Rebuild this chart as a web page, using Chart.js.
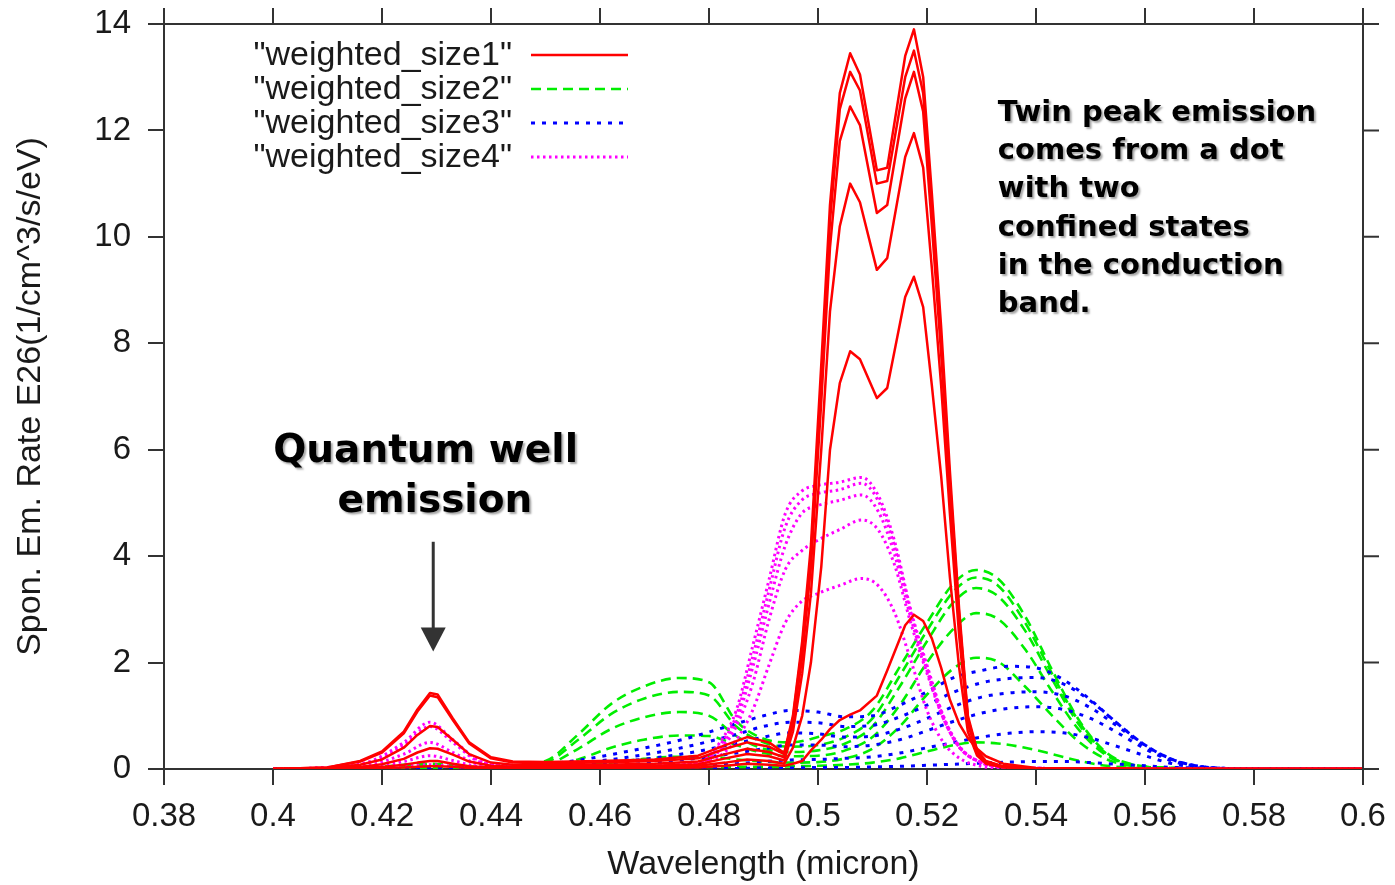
<!DOCTYPE html>
<html>
<head>
<meta charset="utf-8">
<script src="https://cdn.jsdelivr.net/npm/chart.js@4.4.1/dist/chart.umd.min.js"></script>
<style>
html,body{margin:0;padding:0;background:#fff;}
canvas{display:block;}
</style>
</head>
<body>
<canvas id="c" width="1395" height="885"></canvas>
<script>
// ---------- axis ticks & labels ----------
const xTicks = [0.38,0.40,0.42,0.44,0.46,0.48,0.50,0.52,0.54,0.56,0.58,0.60];
const yTicks = [0,2,4,6,8,10,12,14];
const seriesLabels = ['"weighted_size1"','"weighted_size2"','"weighted_size3"','"weighted_size4"'];

// ---------- weighted_size1 (red) ----------
const redX = [0.400,0.410,0.416,0.420,0.424,0.4265,0.4288,0.4302,0.433,0.436,0.440,0.444,0.450,0.460,0.470,0.478,0.483,0.487,0.491,0.4938,0.4954,0.4971,0.4987,0.5006,0.5022,0.5040,0.5059,0.5077,0.5108,0.5127,0.5160,0.5176,0.5193,0.5209,0.5226,0.5242,0.5259,0.5275,0.5292,0.5308,0.5340,0.540,0.560,0.600];
const size1_a = [0,0.03,0.15,0.33,0.70,1.12,1.43,1.40,0.95,0.50,0.22,0.14,0.13,0.15,0.18,0.25,0.45,0.6,0.5,0.3,1.0,2.4,4.2,7.6,10.6,12.7,13.45,13.05,11.25,11.3,13.4,13.9,13.0,10.8,8.3,5.6,3.0,1.0,0.35,0.15,0.05,0.01,0,0];
const size1_b = [0,0.03,0.14,0.31,0.67,1.08,1.38,1.35,0.92,0.48,0.2,0.12,0.11,0.12,0.15,0.2,0.38,0.5,0.42,0.28,0.95,2.3,4.0,7.3,10.3,12.4,13.1,12.75,11.0,11.05,13.0,13.5,12.7,10.5,8.0,5.4,2.9,0.95,0.33,0.14,0.05,0.01,0,0];
const size1_c = [0,0.02,0.08,0.18,0.4,0.64,0.81,0.79,0.55,0.28,0.12,0.08,0.07,0.08,0.1,0.14,0.28,0.38,0.32,0.22,0.85,2.1,3.8,6.9,9.8,11.8,12.45,12.1,10.45,10.6,12.6,13.1,12.35,10.2,7.8,5.2,2.8,0.92,0.32,0.13,0.04,0.01,0,0];
const size1_d = [0,0.01,0.04,0.09,0.19,0.31,0.39,0.38,0.27,0.14,0.06,0.04,0.04,0.05,0.06,0.09,0.2,0.28,0.24,0.16,0.7,1.8,3.3,6.0,8.6,10.2,11.0,10.65,9.38,9.6,11.5,11.95,11.3,9.4,7.2,4.8,2.5,0.85,0.3,0.12,0.04,0.01,0,0];
const size1_e = [0,0,0.02,0.04,0.08,0.12,0.15,0.15,0.1,0.05,0.03,0.02,0.02,0.03,0.04,0.06,0.12,0.18,0.15,0.1,0.4,1.0,2.0,3.8,6.0,7.25,7.85,7.7,6.97,7.16,8.87,9.25,8.68,7.2,5.5,3.6,1.9,0.7,0.25,0.1,0.03,0.01,0,0];
const size1_f = [0,0,0.01,0.02,0.03,0.04,0.05,0.05,0.04,0.02,0.01,0.01,0.01,0.01,0.02,0.03,0.06,0.1,0.08,0.06,0.1,0.15,0.35,0.55,0.75,0.92,1.02,1.1,1.38,1.85,2.7,2.9,2.78,2.45,1.9,1.3,0.85,0.58,0.38,0.24,0.1,0.02,0,0];

// ---------- weighted_size2 (green) ----------
const greenX = [0.400,0.415,0.4288,0.440,0.450,0.456,0.462,0.468,0.4745,0.480,0.485,0.490,0.495,0.500,0.505,0.510,0.515,0.520,0.525,0.529,0.533,0.538,0.543,0.548,0.553,0.558,0.565,0.575,0.600];
const size2_a = [0,0.01,0.1,0.03,0.15,0.65,1.22,1.55,1.71,1.63,0.9,0.57,0.5,0.6,0.75,1.1,1.92,2.75,3.5,3.74,3.58,2.87,1.85,0.9,0.3,0.08,0.02,0,0];
const size2_b = [0,0.01,0.08,0.02,0.12,0.55,1.03,1.32,1.45,1.38,0.8,0.5,0.42,0.45,0.6,0.95,1.75,2.6,3.35,3.6,3.45,2.75,1.78,0.87,0.28,0.07,0.02,0,0];
const size2_c = [0,0,0.05,0.02,0.08,0.38,0.75,0.97,1.07,1.0,0.62,0.38,0.32,0.35,0.48,0.8,1.55,2.4,3.15,3.4,3.25,2.6,1.68,0.82,0.27,0.07,0.02,0,0];
const size2_d = [0,0,0.03,0.01,0.04,0.18,0.4,0.55,0.63,0.62,0.45,0.3,0.24,0.25,0.35,0.6,1.2,2.0,2.65,2.93,2.82,2.25,1.45,0.72,0.25,0.07,0.02,0,0];
const size2_e = [0,0,0.01,0,0.01,0.05,0.12,0.19,0.23,0.23,0.18,0.14,0.12,0.13,0.2,0.38,0.8,1.4,1.9,2.09,2.02,1.55,1.0,0.5,0.18,0.05,0.01,0,0];
const size2_f = [0,0,0,0,0,0.01,0.02,0.03,0.04,0.04,0.04,0.04,0.05,0.06,0.08,0.12,0.2,0.33,0.45,0.5,0.48,0.4,0.28,0.15,0.06,0.02,0,0,0];

// ---------- weighted_size3 (blue) ----------
const blueX = [0.400,0.430,0.445,0.455,0.465,0.475,0.485,0.490,0.495,0.500,0.505,0.510,0.515,0.520,0.525,0.530,0.535,0.540,0.545,0.550,0.555,0.560,0.565,0.570,0.575,0.585,0.600];
const size3_a = [0,0.02,0.05,0.15,0.33,0.55,0.85,1.0,1.1,1.07,0.98,1.0,1.2,1.45,1.72,1.85,1.93,1.9,1.68,1.3,0.85,0.45,0.18,0.05,0.01,0,0];
const size3_b = [0,0.01,0.04,0.1,0.22,0.4,0.65,0.8,0.88,0.87,0.8,0.82,0.98,1.2,1.45,1.62,1.7,1.72,1.6,1.28,0.85,0.45,0.18,0.05,0.01,0,0];
const size3_c = [0,0,0.02,0.06,0.15,0.28,0.48,0.6,0.68,0.66,0.6,0.62,0.75,0.95,1.18,1.35,1.43,1.45,1.38,1.15,0.8,0.43,0.17,0.05,0.01,0,0];
const size3_d = [0,0,0.01,0.03,0.08,0.17,0.3,0.38,0.45,0.45,0.42,0.45,0.55,0.72,0.9,1.05,1.14,1.17,1.12,0.95,0.68,0.38,0.15,0.04,0.01,0,0];
const size3_e = [0,0,0,0.01,0.02,0.05,0.1,0.14,0.17,0.18,0.2,0.23,0.3,0.4,0.5,0.6,0.67,0.7,0.68,0.58,0.42,0.25,0.1,0.03,0.01,0,0];
const size3_f = [0,0,0,0,0,0.01,0.01,0.02,0.02,0.03,0.03,0.04,0.05,0.07,0.09,0.11,0.13,0.14,0.14,0.12,0.09,0.06,0.03,0.02,0.01,0,0];

// ---------- weighted_size4 (magenta) ----------
const magX = [0.400,0.410,0.418,0.424,0.4288,0.433,0.438,0.445,0.455,0.465,0.472,0.478,0.482,0.485,0.488,0.491,0.494,0.497,0.500,0.504,0.508,0.511,0.514,0.517,0.520,0.523,0.526,0.530,0.535,0.545,0.600];
const size4_a = [0,0.03,0.15,0.5,0.88,0.55,0.15,0.05,0.04,0.05,0.08,0.12,0.5,1.1,2.3,3.55,4.8,5.22,5.33,5.39,5.48,5.15,4.3,3.0,1.95,1.0,0.42,0.12,0.03,0.01,0];
const size4_b = [0,0.03,0.13,0.45,0.8,0.5,0.13,0.05,0.04,0.05,0.07,0.11,0.45,1.0,2.1,3.35,4.55,5.05,5.18,5.25,5.37,5.05,4.2,2.95,1.9,0.98,0.4,0.12,0.03,0.01,0];
const size4_c = [0,0.02,0.08,0.28,0.5,0.31,0.08,0.03,0.03,0.04,0.06,0.1,0.4,0.9,1.9,3.1,4.2,4.8,4.95,5.05,5.15,4.85,4.05,2.85,1.85,0.95,0.4,0.12,0.03,0.01,0];
const size4_d = [0,0.01,0.04,0.14,0.25,0.16,0.04,0.02,0.02,0.03,0.05,0.08,0.35,0.8,1.6,2.8,3.75,4.1,4.3,4.5,4.68,4.5,3.85,2.75,1.8,0.95,0.4,0.12,0.03,0.01,0];
const size4_e = [0,0,0.01,0.05,0.08,0.05,0.01,0.01,0.01,0.02,0.04,0.08,0.25,0.55,1.1,1.95,2.75,3.15,3.3,3.45,3.58,3.45,2.95,2.05,1.1,0.5,0.2,0.05,0.01,0,0];

// ---------- families / styles ----------
const families = [
  {label: seriesLabels[0], x: redX,   curves: [size1_a,size1_b,size1_c,size1_d,size1_e,size1_f], color:'#ff0000', dash:[],    width:2.5, smooth:false, order:1},
  {label: seriesLabels[1], x: greenX, curves: [size2_a,size2_b,size2_c,size2_d,size2_e,size2_f], color:'#00ee00', dash:[10,6], width:2.6, smooth:true,  order:4},
  {label: seriesLabels[2], x: blueX,  curves: [size3_a,size3_b,size3_c,size3_d,size3_e,size3_f], color:'#0000ff', dash:[4,7],  width:3,   smooth:true,  order:3},
  {label: seriesLabels[3], x: magX,   curves: [size4_a,size4_b,size4_c,size4_d,size4_e],         color:'#ff00ff', dash:[2.5,3.5], width:3, smooth:true, order:2}
];

const datasets = [];
families.forEach(f => {
  f.curves.forEach(c => {
    datasets.push({
      label: f.label,
      data: f.x.map((xv, i) => ({x: xv, y: c[i]})),
      borderColor: f.color,
      borderWidth: f.width,
      borderDash: f.dash,
      borderJoinStyle: 'round',
      fill: false,
      pointRadius: 0,
      tension: 0,
      cubicInterpolationMode: f.smooth ? 'monotone' : 'default',
      order: f.order
    });
  });
});

const FONT = '"Liberation Sans", Arial, Helvetica, sans-serif';
const AXIS = '#333333';
const TXT = '#1a1a1a';

// top / right frame with outward ticks
const framePlugin = {
  id: 'frame',
  afterDraw(chart) {
    const ctx = chart.ctx, a = chart.chartArea, xs = chart.scales.x, ys = chart.scales.y;
    ctx.save();
    ctx.strokeStyle = AXIS; ctx.lineWidth = 2; ctx.setLineDash([]);
    ctx.beginPath();
    ctx.moveTo(a.left, a.top); ctx.lineTo(a.right, a.top);
    ctx.moveTo(a.right, a.top); ctx.lineTo(a.right, a.bottom);
    xTicks.forEach(v => { const px = xs.getPixelForValue(v); ctx.moveTo(px, a.top); ctx.lineTo(px, a.top - 16); });
    yTicks.forEach(v => { const py = ys.getPixelForValue(v); ctx.moveTo(a.right, py); ctx.lineTo(a.right + 16, py); });
    ctx.stroke();
    ctx.restore();
  }
};

// gnuplot-style key: right-aligned text, sample on the right
const keyPlugin = {
  id: 'key',
  afterDraw(chart) {
    const ctx = chart.ctx, a = chart.chartArea;
    ctx.save();
    ctx.font = '34px ' + FONT;
    ctx.textAlign = 'right'; ctx.textBaseline = 'middle';
    families.forEach((f, i) => {
      const y = a.top + 31 + i * 34;
      ctx.fillStyle = TXT;
      ctx.fillText(f.label, a.left + 348, y + 1);
      ctx.beginPath();
      ctx.setLineDash(f.dash);
      ctx.strokeStyle = f.color; ctx.lineWidth = f.width;
      ctx.moveTo(a.left + 367, y); ctx.lineTo(a.left + 464, y);
      ctx.stroke();
    });
    ctx.restore();
  }
};

// annotations
const notePlugin = {
  id: 'notes',
  afterDraw(chart) {
    const ctx = chart.ctx, xs = chart.scales.x, ys = chart.scales.y;
    ctx.save();
    ctx.fillStyle = '#000';
    ctx.shadowColor = 'rgba(0,0,0,0.35)'; ctx.shadowOffsetX = 2; ctx.shadowOffsetY = 2; ctx.shadowBlur = 2;
    ctx.font = 'bold 39px "DejaVu Sans", Verdana, sans-serif';
    ctx.textAlign = 'center'; ctx.textBaseline = 'middle';
    ctx.fillText('Quantum well', xs.getPixelForValue(0.4280), ys.getPixelForValue(5.96));
    ctx.fillText('emission', xs.getPixelForValue(0.4297), ys.getPixelForValue(5.02));

    ctx.font = 'bold 29px "DejaVu Sans", Verdana, sans-serif';
    ctx.textAlign = 'left'; ctx.textBaseline = 'alphabetic';
    const lines = ['Twin peak emission','comes from a dot','with two','confined states','in the conduction','band.'];
    const tx = xs.getPixelForValue(0.5330), ty = ys.getPixelForValue(12.18);
    lines.forEach((t, i) => ctx.fillText(t, tx, ty + i * 38.3));

    // arrow
    ctx.shadowColor = 'transparent';
    const ax = xs.getPixelForValue(0.4294);
    const y0 = ys.getPixelForValue(4.27), yb = ys.getPixelForValue(2.66), yt = ys.getPixelForValue(2.21);
    ctx.strokeStyle = '#333'; ctx.fillStyle = '#333'; ctx.lineWidth = 3;
    ctx.beginPath(); ctx.moveTo(ax, y0); ctx.lineTo(ax, yb + 2); ctx.stroke();
    ctx.beginPath(); ctx.moveTo(ax - 12.5, yb); ctx.lineTo(ax + 12.5, yb); ctx.lineTo(ax, yt); ctx.closePath(); ctx.fill();
    ctx.restore();
  }
};

new Chart(document.getElementById('c'), {
  type: 'line',
  data: { datasets },
  options: {
    responsive: false,
    animation: false,
    devicePixelRatio: 1,
    layout: { padding: { left: 0, right: 32, top: 24, bottom: 0 } },
    plugins: { legend: { display: false }, tooltip: { enabled: false } },
    elements: { point: { radius: 0 } },
    scales: {
      x: {
        type: 'linear', min: 0.38, max: 0.60,
        afterBuildTicks: s => { s.ticks = xTicks.map(v => ({ value: v })); },
        afterFit: s => { s.height = 116; s.paddingLeft = 0; s.paddingRight = 0; },
        ticks: { callback: v => String(+(+v).toFixed(2)), font: { family: FONT, size: 33 }, color: TXT, padding: 12, maxRotation: 0, autoSkip: false },
        grid: { display: true, drawOnChartArea: false, drawTicks: true, tickLength: 16, color: AXIS, lineWidth: 2 },
        border: { display: true, color: AXIS, width: 2 },
        title: { display: true, text: 'Wavelength (micron)', font: { family: FONT, size: 34 }, color: TXT, padding: { top: 0, bottom: 0 } }
      },
      y: {
        type: 'linear', min: 0, max: 14,
        afterBuildTicks: s => { s.ticks = yTicks.map(v => ({ value: v })); },
        afterFit: s => { s.width = 164; s.paddingTop = 0; s.paddingBottom = 0; },
        ticks: { font: { family: FONT, size: 33 }, color: TXT, padding: 17 },
        grid: { display: true, drawOnChartArea: false, drawTicks: true, tickLength: 16, color: AXIS, lineWidth: 2 },
        border: { display: true, color: AXIS, width: 2 },
        title: { display: true, text: 'Spon. Em. Rate E26(1/cm^3/s/eV)', font: { family: FONT, size: 34 }, color: TXT, padding: { top: 10, bottom: 0 } }
      }
    }
  },
  plugins: [framePlugin, keyPlugin, notePlugin]
});
</script>
</body>
</html>
